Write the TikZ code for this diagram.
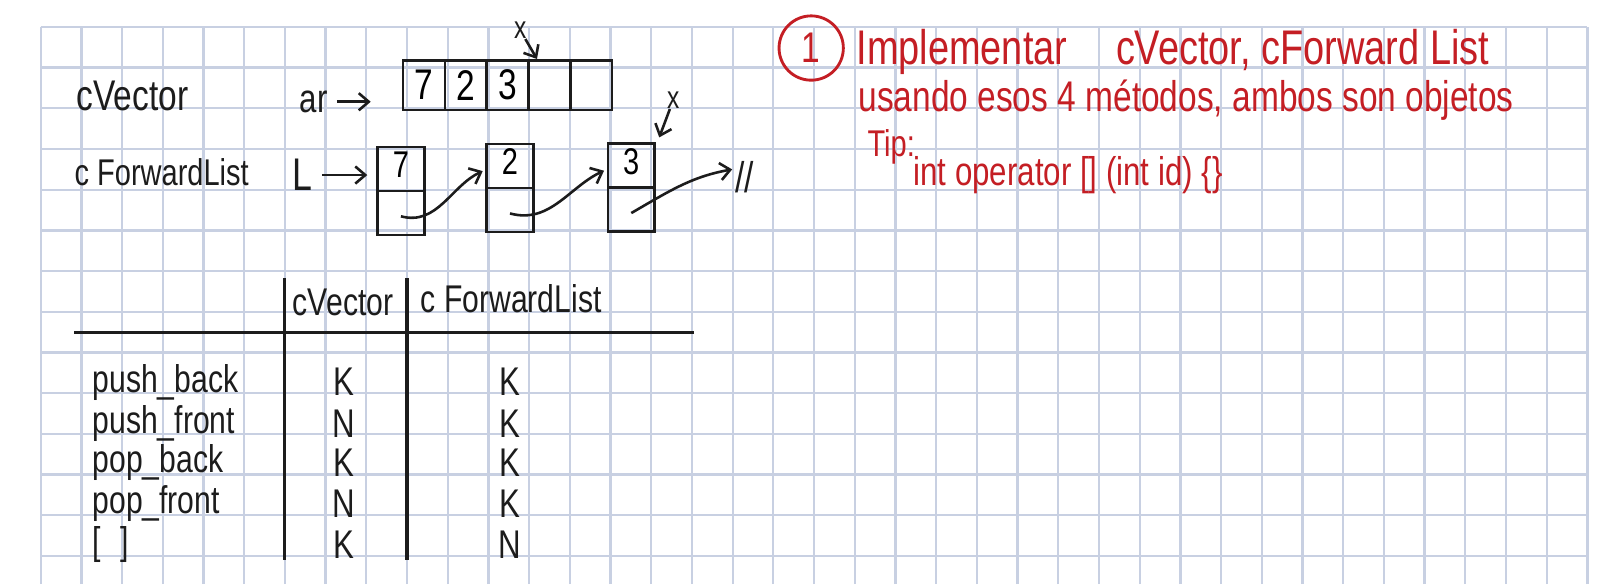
\documentclass[tikz,border=0pt]{standalone}
\usepackage{fontspec}
\setmainfont{Liberation Sans}[FakeStretch=0.78]
\usepackage{tikz}
\usetikzlibrary{calc,arrows.meta,positioning,shapes.multipart}
\definecolor{inkBlack}{RGB}{28,28,28}
\definecolor{inkRed}{RGB}{196,30,36}
\definecolor{gridBlue}{RGB}{200,208,226}
\newcommand{\handsize}[1]{\fontsize{#1}{#1}\selectfont}
\newcommand{\cellstrut}{\rule[-0.1cm]{0pt}{0.42cm}}

\begin{document}
\begin{tikzpicture}[x=0.5cm,y=0.5cm,
  gridline/.style={gridBlue, line width=0.8pt},
  ink/.style={inkBlack, line width=0.9pt},
  hand/.style={text=inkBlack, inner sep=0pt, font=\handsize{14}},
  redhand/.style={text=inkRed, inner sep=0pt, anchor=west},
  arrcell/.style={draw=inkBlack, line width=0.9pt, minimum width=0.514cm, minimum height=0.61cm, inner sep=0pt, font=\handsize{15}},
  lnode/.style={draw=inkBlack, line width=0.9pt, rectangle split, rectangle split parts=2, minimum width=0.575cm, inner xsep=0pt, inner ysep=0.045cm, font=\handsize{13}},
  link/.style={ink, ->, shorten >=1pt},
  >={Straight Barb[length=3.5pt,width=6pt]}]
\useasboundingbox (0,0) rectangle (39.31,14.35);
\fill[white] (0,0) rectangle (39.31,14.35);
% squared paper
\foreach \gx in {1,...,39} \draw[gridline] (\gx,0) -- (\gx,13.69);
\foreach \gy in {0,...,13} \draw[gridline] (1,\gy+0.69) -- (39,\gy+0.69);

% cVector
\node[hand, anchor=west, font=\handsize{15}] (cvec) at (1.87,11.99) {cVector};
\node[hand] (ar) at (7.71,11.85) {ar};
\foreach \v [count=\i] in {7,2,3,{},{}}
  \node[arrcell] (a\i) at ({10.414+(\i-1)*1.028},12.26) {\v};
\draw[ink, ->, shorten <=3pt, shorten >=0.38cm] (ar.east) -- (ar.east -| a1.west);
\node[hand, font=\handsize{11}] (xa) at (12.78,13.61) {x};
\draw[ink, ->] (xa) -- ([xshift=0.12cm]a4.north west);

% cForwardList
\node[hand, anchor=west, font=\handsize{13}] (cfl) at (1.82,10.12) {c ForwardList};
\node[hand, font=\handsize{16}] (L) at (7.44,10.05) {L};
\node[lnode] (n1) at (9.85,9.66) {\cellstrut 7\nodepart{two}\cellstrut};
\node[lnode] (n2) at (12.53,9.73) {\cellstrut 2\nodepart{two}\cellstrut};
\node[lnode] (n3) at (15.51,9.74) {\cellstrut 3\nodepart{two}\cellstrut};
\node[hand, font=\handsize{15}] (nil) at (18.30,10.0) {//};
\draw[ink, ->, shorten <=3pt, shorten >=0.11cm] (L.east) -- (L.east -| n1.west);
\draw[link] ($(n1.south)!0.22!(n1.north)$) to[out=-15,in=205] ($(n2.north west)!0.3!(n2.south west)$);
\draw[link] ($(n2.south)!0.22!(n2.north)$) to[out=-15,in=205] ($(n3.north west)!0.3!(n3.south west)$);
\draw[link] ($(n3.south)!0.22!(n3.north)$) to[out=30,in=190] ([yshift=0.1cm]nil.west);
\node[hand, font=\handsize{11}] (xb) at (16.54,11.89) {x};
\draw[ink, ->] (xb) -- ([shift={(0.04cm,0.06cm)}]n3.north east);

% table
\node[hand, font=\handsize{13.5}] (hcv) at (8.43,6.93) {cVector};
\node[hand, font=\handsize{13.5}] (hfl) at (12.56,7.0) {c ForwardList};
\draw[ink, line width=1.1pt] (1.82,6.19) -- (17.05,6.19);
\draw[ink, line width=1.1pt] (6.98,7.52) -- (6.98,0.59);
\draw[ink, line width=1.1pt] (10.0,7.52) -- (10.0,0.59);
\foreach \op/\cv/\fl/\yy [count=\r] in {push\_back/K/K/4.96, push\_front/N/K/3.94, pop\_back/K/K/2.98, pop\_front/N/K/1.97, {[\enspace]}/K/N/0.97} {
  \node[hand, anchor=west, font=\handsize{13.5}] (op\r) at (2.26,\yy) {\op};
  \node[hand] (cv\r) at (8.45,\yy) {\cv};
  \node[hand] (fl\r) at (12.53,\yy) {\fl};
}

% exercise
\node[draw=inkRed, circle, line width=1pt, minimum size=0.79cm, inner sep=0pt, text=inkRed, font=\handsize{15}] (num) at (19.93,13.17) {1};
\node[redhand, font=\handsize{17}] (ln1) at (21.03,13.07) {Implementar\quad cVector, cForward List};
\node[redhand, font=\handsize{15}] (ln2) at (21.08,11.89) {usando esos 4 métodos, ambos son objetos};
\node[redhand, font=\handsize{13}] (tip) at (21.3,10.74) {Tip:};
\node[redhand, font=\handsize{14}] (code) at (22.43,10.05) {int operator [] (int id) \{\}};
\end{tikzpicture}
\end{document}
